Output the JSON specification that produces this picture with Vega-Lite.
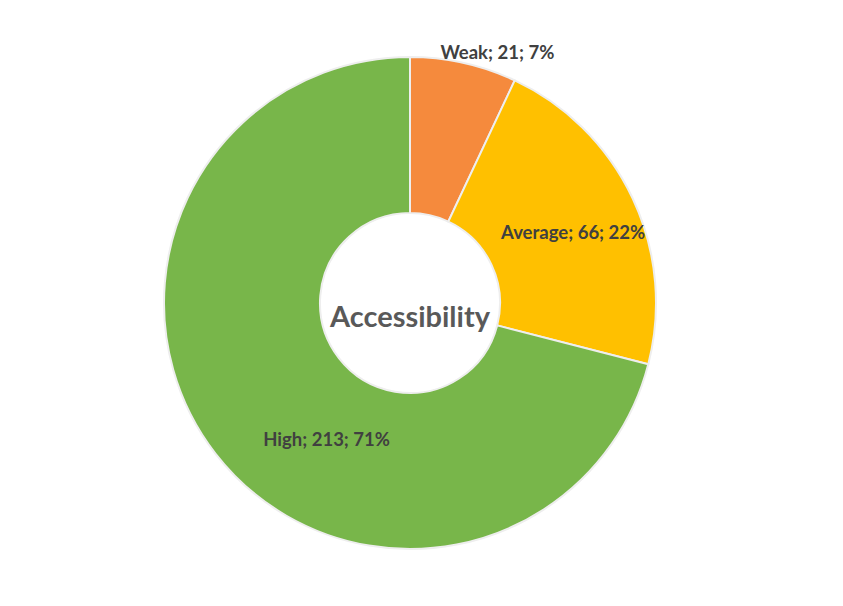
{
  "$schema": "https://vega.github.io/schema/vega-lite/v6.json",
  "width": 843,
  "height": 606,
  "autosize": {"type": "fit", "contains": "padding"},
  "padding": {"left": 0, "right": 23, "top": 0, "bottom": 0},
  "background": "#ffffff",
  "view": {"stroke": null},
  "data": {
    "values": [
      {"cat": "Weak", "count": 21, "idx": 1, "label": "Weak; 21; 7%"},
      {"cat": "Average", "count": 66, "idx": 2, "label": "Average; 66; 22%"},
      {"cat": "High", "count": 213, "idx": 3, "label": "High; 213; 71%"}
    ]
  },
  "encoding": {
    "theta": {"field": "count", "type": "quantitative", "stack": true},
    "order": {"field": "idx", "type": "quantitative"}
  },
  "layer": [
    {
      "mark": {"type": "arc", "outerRadius": 246, "innerRadius": 90, "stroke": "#eeeeee", "strokeWidth": 2},
      "encoding": {
        "color": {
          "field": "cat", "type": "nominal",
          "scale": {"domain": ["Weak", "Average", "High"], "range": ["#F58A3D", "#FFC000", "#78B64A"]},
          "legend": null
        }
      }
    },
    {
      "mark": {"type": "text", "radius": 263, "dx": 30, "dy": 7, "font": "Lato", "fontWeight": "bold", "fontSize": 18.5, "color": "#404040"},
      "encoding": {
        "text": {"condition": {"test": "datum.cat === 'Weak'", "field": "label"}, "value": ""}
      }
    },
    {
      "mark": {"type": "text", "radius": 177, "dx": 3, "dy": 5, "font": "Lato", "fontWeight": "bold", "fontSize": 18.5, "color": "#404040"},
      "encoding": {
        "text": {"condition": {"test": "datum.cat === 'Average'", "field": "label"}, "value": ""}
      }
    },
    {
      "mark": {"type": "text", "radius": 160, "dx": 43, "dy": 39, "font": "Lato", "fontWeight": "bold", "fontSize": 18.5, "color": "#404040"},
      "encoding": {
        "text": {"condition": {"test": "datum.cat === 'High'", "field": "label"}, "value": ""}
      }
    },
    {
      "data": {"values": [{"name": "Accessibility"}]},
      "mark": {"type": "text", "dy": 15, "font": "Lato", "fontWeight": "bold", "fontSize": 29, "color": "#595959"},
      "encoding": {
        "theta": null,
        "order": null,
        "text": {"field": "name", "type": "nominal"}
      }
    }
  ]
}
